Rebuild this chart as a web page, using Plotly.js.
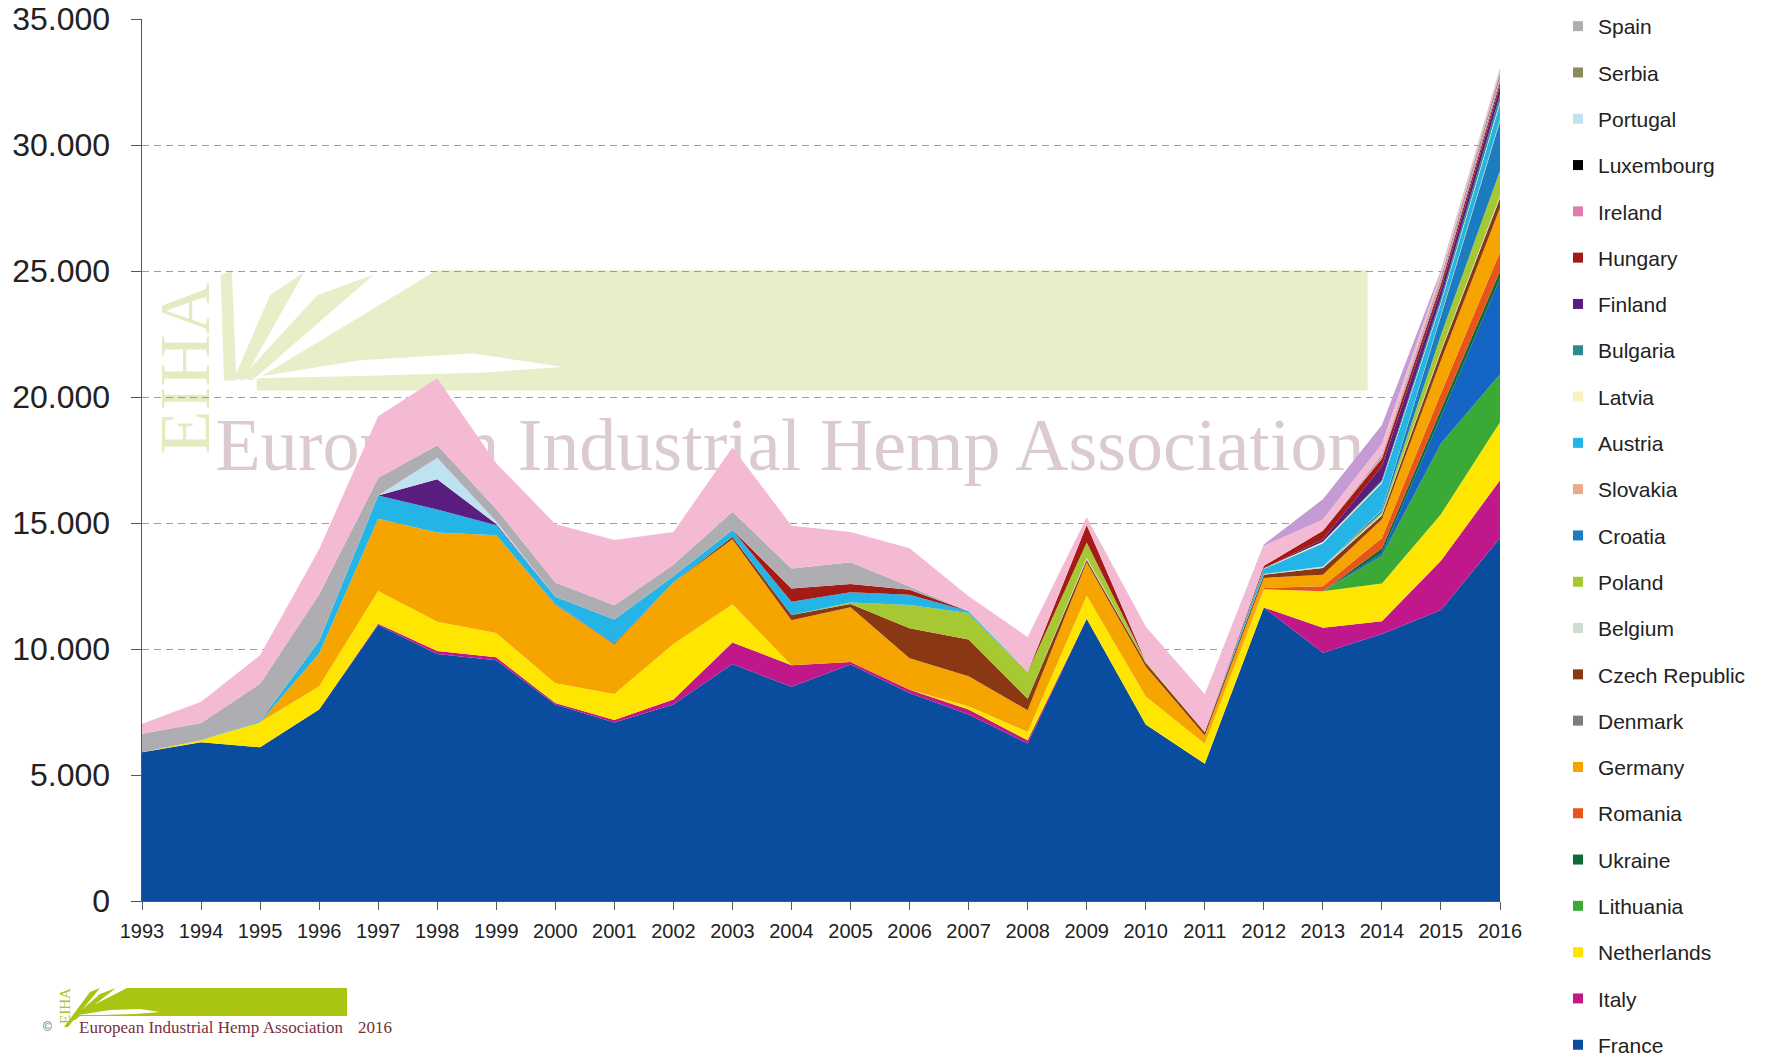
<!DOCTYPE html>
<html>
<head>
<meta charset="utf-8">
<script src="https://cdn.plot.ly/plotly-3.0.1.min.js"></script>
<style>
html,body{margin:0;padding:0;background:#ffffff;}
#chart{width:1765px;height:1059px;}
</style>
</head>
<body>
<div id="chart"></div>
<script>
// ---------------- DATA (hectares) ----------------
const years = [1993,1994,1995,1996,1997,1998,1999,2000,2001,2002,2003,2004,2005,2006,2007,2008,2009,2010,2011,2012,2013,2014,2015,2016];

const france      = [5900,6300,6100,7600,10950,9800,9550,7800,7080,7800,9400,8500,9380,8250,7400,6250,11200,7000,5450,11650,9850,10600,11550,14400];
const italy       = [0,0,0,0,50,120,120,60,100,200,860,860,100,130,200,130,0,0,0,0,990,500,1950,2300];
const netherlands = [0,80,990,920,1300,1160,960,780,1030,2200,1520,0,0,0,130,330,925,1120,790,720,1450,1500,1850,2300];
const lithuania   = [0,0,0,0,0,0,0,0,0,0,0,0,0,0,0,0,0,0,0,0,0,1100,2800,1900];
const estonia     = [0,0,0,0,0,0,0,0,0,0,0,0,0,0,0,0,0,0,0,0,0,100,1100,3800];
const ukraine     = [0,0,0,0,0,0,0,0,0,0,0,0,0,0,0,0,0,0,0,0,0,200,250,300];
const romania     = [0,0,0,0,0,0,0,0,0,0,0,0,0,0,0,0,0,0,0,50,200,400,650,750];
const germany     = [0,0,0,1300,2870,3540,3880,3110,1980,2440,2577,1785,2180,1255,1190,860,1320,1190,330,400,460,750,1300,1750];
const denmark     = [0,0,0,0,0,0,0,40,0,0,0,0,0,0,0,0,0,0,0,0,0,0,0,0];
const czech       = [0,0,0,0,0,0,0,0,0,0,100,200,130,1190,1454,460,100,130,130,130,260,150,350,400];
const belgium     = [0,0,0,0,0,0,0,0,0,0,0,0,0,0,0,0,80,0,0,30,60,50,60,80];
const poland      = [0,0,0,0,0,0,0,0,0,0,0,0,60,925,1057,1057,600,66,0,0,0,80,600,1000];
const croatia     = [0,0,0,0,0,0,0,0,60,0,0,0,0,0,0,0,0,0,0,0,0,80,750,1950];
const slovakia    = [0,0,0,0,0,0,0,0,0,0,0,0,0,0,0,0,0,0,0,0,0,30,60,80];
const austria     = [0,0,50,500,920,920,400,280,920,250,265,530,400,400,66,0,0,0,0,200,930,1050,450,650];
const latvia      = [0,0,0,0,0,0,0,0,0,0,0,0,0,0,0,0,0,0,0,20,60,60,60,80];
const bulgaria    = [0,0,0,0,0,0,0,0,0,0,0,0,0,0,0,0,0,0,0,0,0,50,150,250];
const finland     = [0,0,0,0,0,1200,50,0,0,0,0,0,0,0,0,0,0,0,0,0,100,550,350,350];
const hungary     = [0,0,0,0,0,0,0,0,0,0,0,530,330,200,0,0,700,0,0,100,330,300,200,150];
const ireland     = [0,0,0,0,0,0,0,0,0,0,0,0,0,0,0,0,0,0,0,0,0,80,100,100];
const luxembourg  = [0,0,0,0,0,0,0,0,0,0,0,0,0,0,0,0,0,0,0,0,0,0,20,30];
const portugal    = [0,0,0,0,0,850,100,0,0,0,0,0,0,0,0,0,0,0,0,0,0,30,50,60];
const serbia      = [0,0,0,0,0,0,0,0,0,0,0,0,0,0,0,0,0,0,0,0,0,50,100,150];
const spain       = [735,680,1485,1840,700,500,500,570,570,450,727,790,860,130,0,0,0,0,0,0,0,30,50,100];
const unitedKingdom = [400,850,1130,1800,2450,2650,1810,2320,2590,1300,2550,1700,1200,1520,600,1390,300,1390,1500,800,450,400,150,150];
const other       = [0,0,0,0,0,0,0,0,0,0,0,0,0,0,0,0,0,0,0,50,800,750,80,0];

// stacking order, bottom to top: [name, values, colour, shown in legend]
const series = [
  ['France', france, '#0a4d9f', true],
  ['Italy', italy, '#c0188a', true],
  ['Netherlands', netherlands, '#ffe600', true],
  ['Lithuania', lithuania, '#3ba935', true],
  ['Estonia', estonia, '#1566c4', false],
  ['Ukraine', ukraine, '#0e6a36', true],
  ['Romania', romania, '#e6561c', true],
  ['Germany', germany, '#f5a400', true],
  ['Denmark', denmark, '#7d7d7d', true],
  ['Czech Republic', czech, '#8a3814', true],
  ['Belgium', belgium, '#cfdccf', true],
  ['Poland', poland, '#a6c832', true],
  ['Croatia', croatia, '#1b7cc0', true],
  ['Slovakia', slovakia, '#e9a98a', true],
  ['Austria', austria, '#24b4e6', true],
  ['Latvia', latvia, '#f9f2bf', true],
  ['Bulgaria', bulgaria, '#2b8a8c', true],
  ['Finland', finland, '#5a1e80', true],
  ['Hungary', hungary, '#a31b14', true],
  ['Ireland', ireland, '#e07bae', true],
  ['Luxembourg', luxembourg, '#000000', true],
  ['Portugal', portugal, '#bfe2f1', true],
  ['Serbia', serbia, '#8b8b5d', true],
  ['Spain', spain, '#aeaeb2', true],
  ['United Kingdom', unitedKingdom, '#f4bad4', false],
  ['Other', other, '#c49bd2', false]
];

// ---------------- TRACES ----------------
const traces = [];
series.forEach(([name, vals, color]) => {
  traces.push({
    type: 'scatter', x: years, y: vals, name: name,
    stackgroup: 'one', mode: 'none', fillcolor: color,
    line: {width: 0}, showlegend: false,
    hovertemplate: name + ' %{x}: %{y:,}<extra></extra>'
  });
});
// legend entries (small square swatches), top of the stack listed first
series.filter(s => s[3]).slice().reverse().forEach(([name, , color]) => {
  traces.push({
    type: 'scatter', x: [null], y: [null], name: name, mode: 'markers',
    marker: {symbol: 'square', size: 10, color: color},
    legendgroup: name, showlegend: true, hoverinfo: 'skip'
  });
});

// ---------------- WATERMARK GEOMETRY ----------------
const W = 1765, H = 1059, ML = 142, MR = 265, MT = 19, MB = 158;
const PW = W - ML - MR, PH = H - MT - MB;
const SC = 1765 / 1568;
function fx(x){ return (x - ML) / PW; }
function fy(y){ return (H - MB - y) / PH; }
function pathOf(pts, k){
  return 'M' + pts.map(p => fx(p[0]*k).toFixed(5) + ',' + fy(p[1]*k).toFixed(5)).join('L') + 'Z';
}
const wmGreen = '#e7efc8';
const logoGreen = '#a9c412';
const wmBody  = [[388,240],[1215,240],[1215,347],[228,347],[228,337]];
const wmF1    = [[199,338],[196,244],[206,240],[210,338]];
const wmF2    = [[208,336],[240,262],[270,242],[216,338]];
const wmF3    = [[214,336],[282,262],[332,244],[224,338]];
const wmWhite = [[222,336],[320,320],[420,314],[500,326],[430,331],[320,334]];
const ftBody  = [[127,988],[347,988],[347,1016],[80,1016],[80,1012]];
const ftF1    = [[64,1027],[90,992],[100,988],[68,1027]];
const ftF2    = [[70,1020],[100,994],[116,988],[75,1020]];
const ftWhite = [[78,1015],[110,1010],[140,1009],[160,1012],[135,1014],[100,1015]];

function poly(pts, k, color){
  return {type:'path', xref:'paper', yref:'paper', path: pathOf(pts, k),
          fillcolor: color, line:{width:0}, layer:'below'};
}
const shapes = [
  poly(wmBody, SC, wmGreen), poly(wmF1, SC, wmGreen), poly(wmF2, SC, wmGreen), poly(wmF3, SC, wmGreen),
  poly(wmWhite, SC, '#ffffff'),
  {type:'rect', xref:'paper', yref:'paper', x0: fx(150), x1: fx(203), y0: fy(456), y1: fy(281),
   line:{width:0}, fillcolor:'rgba(0,0,0,0)', layer:'below',
   label:{text:'EIHA', textangle:-90, textposition:'middle center',
          font:{family:'Liberation Serif', size:72, color:'#e3ecc0'}}},
  {type:'rect', xref:'paper', yref:'paper', x0: fx(200), x1: fx(1380), y0: fy(474), y1: fy(400),
   line:{width:0}, fillcolor:'rgba(0,0,0,0)', layer:'below',
   label:{text:'European Industrial Hemp Association', textposition:'middle center',
          font:{family:'Liberation Serif', size:74, color:'#dccbce'}}},
  poly(ftBody, 1, logoGreen), poly(ftF1, 1, logoGreen), poly(ftF2, 1, logoGreen), poly(ftWhite, 1, '#ffffff')
];

const annotations = [
  {xref:'paper', yref:'paper', x: fx(77), y: fy(1027), xanchor:'left', yanchor:'middle', showarrow:false,
   text:'European Industrial Hemp Association', font:{family:'Liberation Serif', size:17, color:'#7a2f3e'}},
  {xref:'paper', yref:'paper', x: fx(356), y: fy(1027), xanchor:'left', yanchor:'middle', showarrow:false,
   text:'2016', font:{family:'Liberation Serif', size:17, color:'#6b3535'}},
  {xref:'paper', yref:'paper', x: fx(47), y: fy(1027), xanchor:'center', yanchor:'middle', showarrow:false,
   text:'©', font:{family:'Liberation Sans', size:12, color:'#666666'}},
  {xref:'paper', yref:'paper', x: fx(65), y: fy(1006), xanchor:'center', yanchor:'middle', showarrow:false,
   text:'EIHA', textangle:-90, font:{family:'Liberation Serif', size:15, color:logoGreen}}
];

const layout = {
  width: W, height: H,
  margin: {l: ML, r: MR, t: MT, b: MB, autoexpand: false},
  paper_bgcolor: '#ffffff', plot_bgcolor: 'rgba(0,0,0,0)',
  separators: ',.',
  font: {family: 'Liberation Sans, Arial, sans-serif', color: '#222222'},
  showlegend: true,
  legend: {
    x: fx(1558), xanchor: 'left', xref: 'paper',
    y: 1 - 6 / H, yanchor: 'top', yref: 'container',
    traceorder: 'grouped', tracegroupgap: 16,
    font: {family: 'Liberation Sans, Arial, sans-serif', size: 21, color: '#222222'},
    bgcolor: 'rgba(0,0,0,0)', borderwidth: 0, maxheight: 1400
  },
  xaxis: {
    range: [1993, 2016], tickvals: years, ticktext: years.map(String),
    ticks: 'outside', ticklen: 8, tickwidth: 1, tickcolor: '#555555',
    showline: true, linecolor: '#555555', linewidth: 1,
    showgrid: false, zeroline: false, ticklabelstandoff: 4,
    tickfont: {family: 'Liberation Sans, Arial, sans-serif', size: 20, color: '#222222'},
    fixedrange: true
  },
  yaxis: {
    range: [0, 35000], dtick: 5000, tick0: 0, tickformat: ',d',
    ticks: 'outside', ticklen: 10, tickwidth: 1, tickcolor: '#555555',
    showline: true, linecolor: '#555555', linewidth: 1.5,
    showgrid: true, gridcolor: '#9c9c9c', gridwidth: 1, griddash: '7px,5px',
    zeroline: false, ticklabelstandoff: 14,
    tickfont: {family: 'Liberation Sans, Arial, sans-serif', size: 32, color: '#222222'},
    fixedrange: true
  },
  shapes: shapes,
  annotations: annotations
};

Plotly.newPlot('chart', traces, layout, {displayModeBar: false, staticPlot: true});
</script>
</body>
</html>
